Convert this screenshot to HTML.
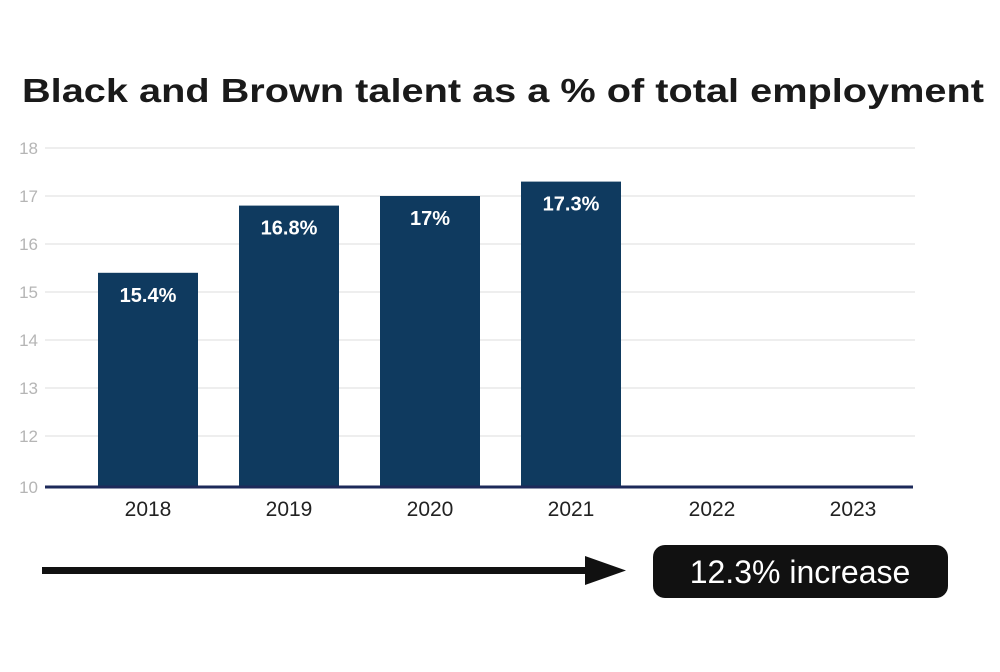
<!DOCTYPE html>
<html><head><meta charset="utf-8"><style>
body{margin:0;background:#fff;width:1000px;height:667px;overflow:hidden;font-family:"Liberation Sans",sans-serif}
</style></head><body>
<svg width="1000" height="667" viewBox="0 0 1000 667">
<text x="503" y="102" text-anchor="middle" font-size="33" font-weight="bold" fill="#1a1a1a" textLength="962" lengthAdjust="spacingAndGlyphs">Black and Brown talent as a % of total employment</text>
<g id="grid"></g><g id="bars"></g><g id="xl"></g>
<g>
<rect x="42" y="567" width="550" height="7" fill="#111"/>
<polygon points="585,556 626,570.5 585,585" fill="#111"/>
</g>
<g>
<rect x="653" y="545" width="295" height="53" rx="12" fill="#111"/>
<text x="800" y="583" text-anchor="middle" font-size="32" fill="#fff">12.3% increase</text>
</g>
</svg>
<script>
const categories=["2018","2019","2020","2021","2022","2023"];
const values=[15.4,16.8,17,17.3,null,null];
const valueLabels=["15.4%","16.8%","17%","17.3%","",""];
const tickValues=[10,12,13,14,15,16,17,18];
const NS="http://www.w3.org/2000/svg";
function y(v){return v>=12?436-(v-12)*48:487-(v-10)*25.5;}
function x(i){return 148+i*141;}
function mk(t,a,p){const e=document.createElementNS(NS,t);for(const k in a)e.setAttribute(k,a[k]);p.appendChild(e);return e;}
const g=document.getElementById("grid"),b=document.getElementById("bars"),xl=document.getElementById("xl");
tickValues.forEach(v=>{
 if(v!==10){const l=mk("line",{x1:45,x2:915,y1:y(v),y2:y(v),stroke:"#dcdcdc","stroke-width":1},g);
 
 }
 const t=mk("text",{x:38,y:y(v)+6,"text-anchor":"end","font-size":17,fill:"#b5b5b5"},g);t.textContent=v;
 
 
});
categories.forEach((c,i)=>{
 if(values[i]!=null){
  const r=mk("rect",{x:x(i)-50,y:y(values[i]),width:100,height:487-y(values[i]),fill:"#0f3a5f"},b);
  
  
  const t=mk("text",{x:x(i),y:y(values[i])+29,"text-anchor":"middle","font-size":20,"font-weight":"bold",fill:"#fff"},b);t.textContent=valueLabels[i];
  
  
 }
 const t=mk("text",{x:x(i),y:516,"text-anchor":"middle","font-size":21,fill:"#222"},xl);t.textContent=c;
 
 
});
const base=mk("line",{x1:45,x2:913,y1:487,y2:487,stroke:"#1d2a5a","stroke-width":3},xl);


</script>
</body></html>
